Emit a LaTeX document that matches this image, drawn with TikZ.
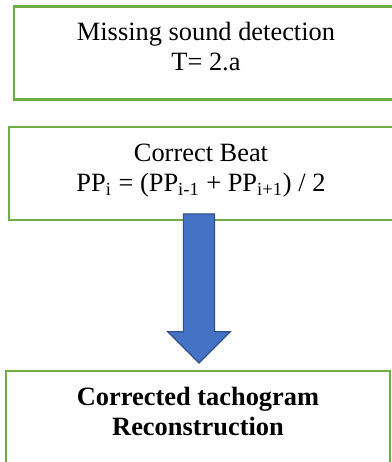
\documentclass[tikz,border=0pt]{standalone}
\usepackage{fontspec}
\setmainfont{Liberation Serif}
\usetikzlibrary{shapes.arrows}
\definecolor{boxgreen}{HTML}{70AD47}
\definecolor{arrowblue}{HTML}{4472C4}
\definecolor{arrowedge}{HTML}{2F528F}

\begin{document}
\begin{tikzpicture}[x=0.5pt, y=-0.5pt,
  box/.style = {draw=boxgreen, line width=1.25pt, minimum width=192pt, minimum height=46.5pt, align=center, text depth=6.2pt, font=\fontsize{13.2}{15}\selectfont},
  down/.style = {single arrow, draw=arrowedge, fill=arrowblue, line width=0.6pt, rotate=-90, minimum height=74.5pt, minimum width=30.5pt, single arrow head extend=7.75pt, inner xsep=0pt, inner ysep=7.5pt}]
\useasboundingbox (0,0) rectangle (392,462);
\clip (0,0) rectangle (392,462);
\node[box] (detect) at (206,53) {Missing sound detection\\T= 2.a};
\node[box] (beat) at (201,173.5) {Correct Beat\\PP\textsubscript{i} = (PP\textsubscript{i-1} + PP\textsubscript{i+1}) / 2};
\node[box, font=\fontsize{13.2}{15}\selectfont\bfseries] (tacho) at (198,417.5) {Corrected tachogram\\Reconstruction};
\coordinate (tip) at ([shift={(1,-6)}]tacho.north);
\node[down, anchor=tip] (arrow) at (tip) {};
\end{tikzpicture}
\end{document}
